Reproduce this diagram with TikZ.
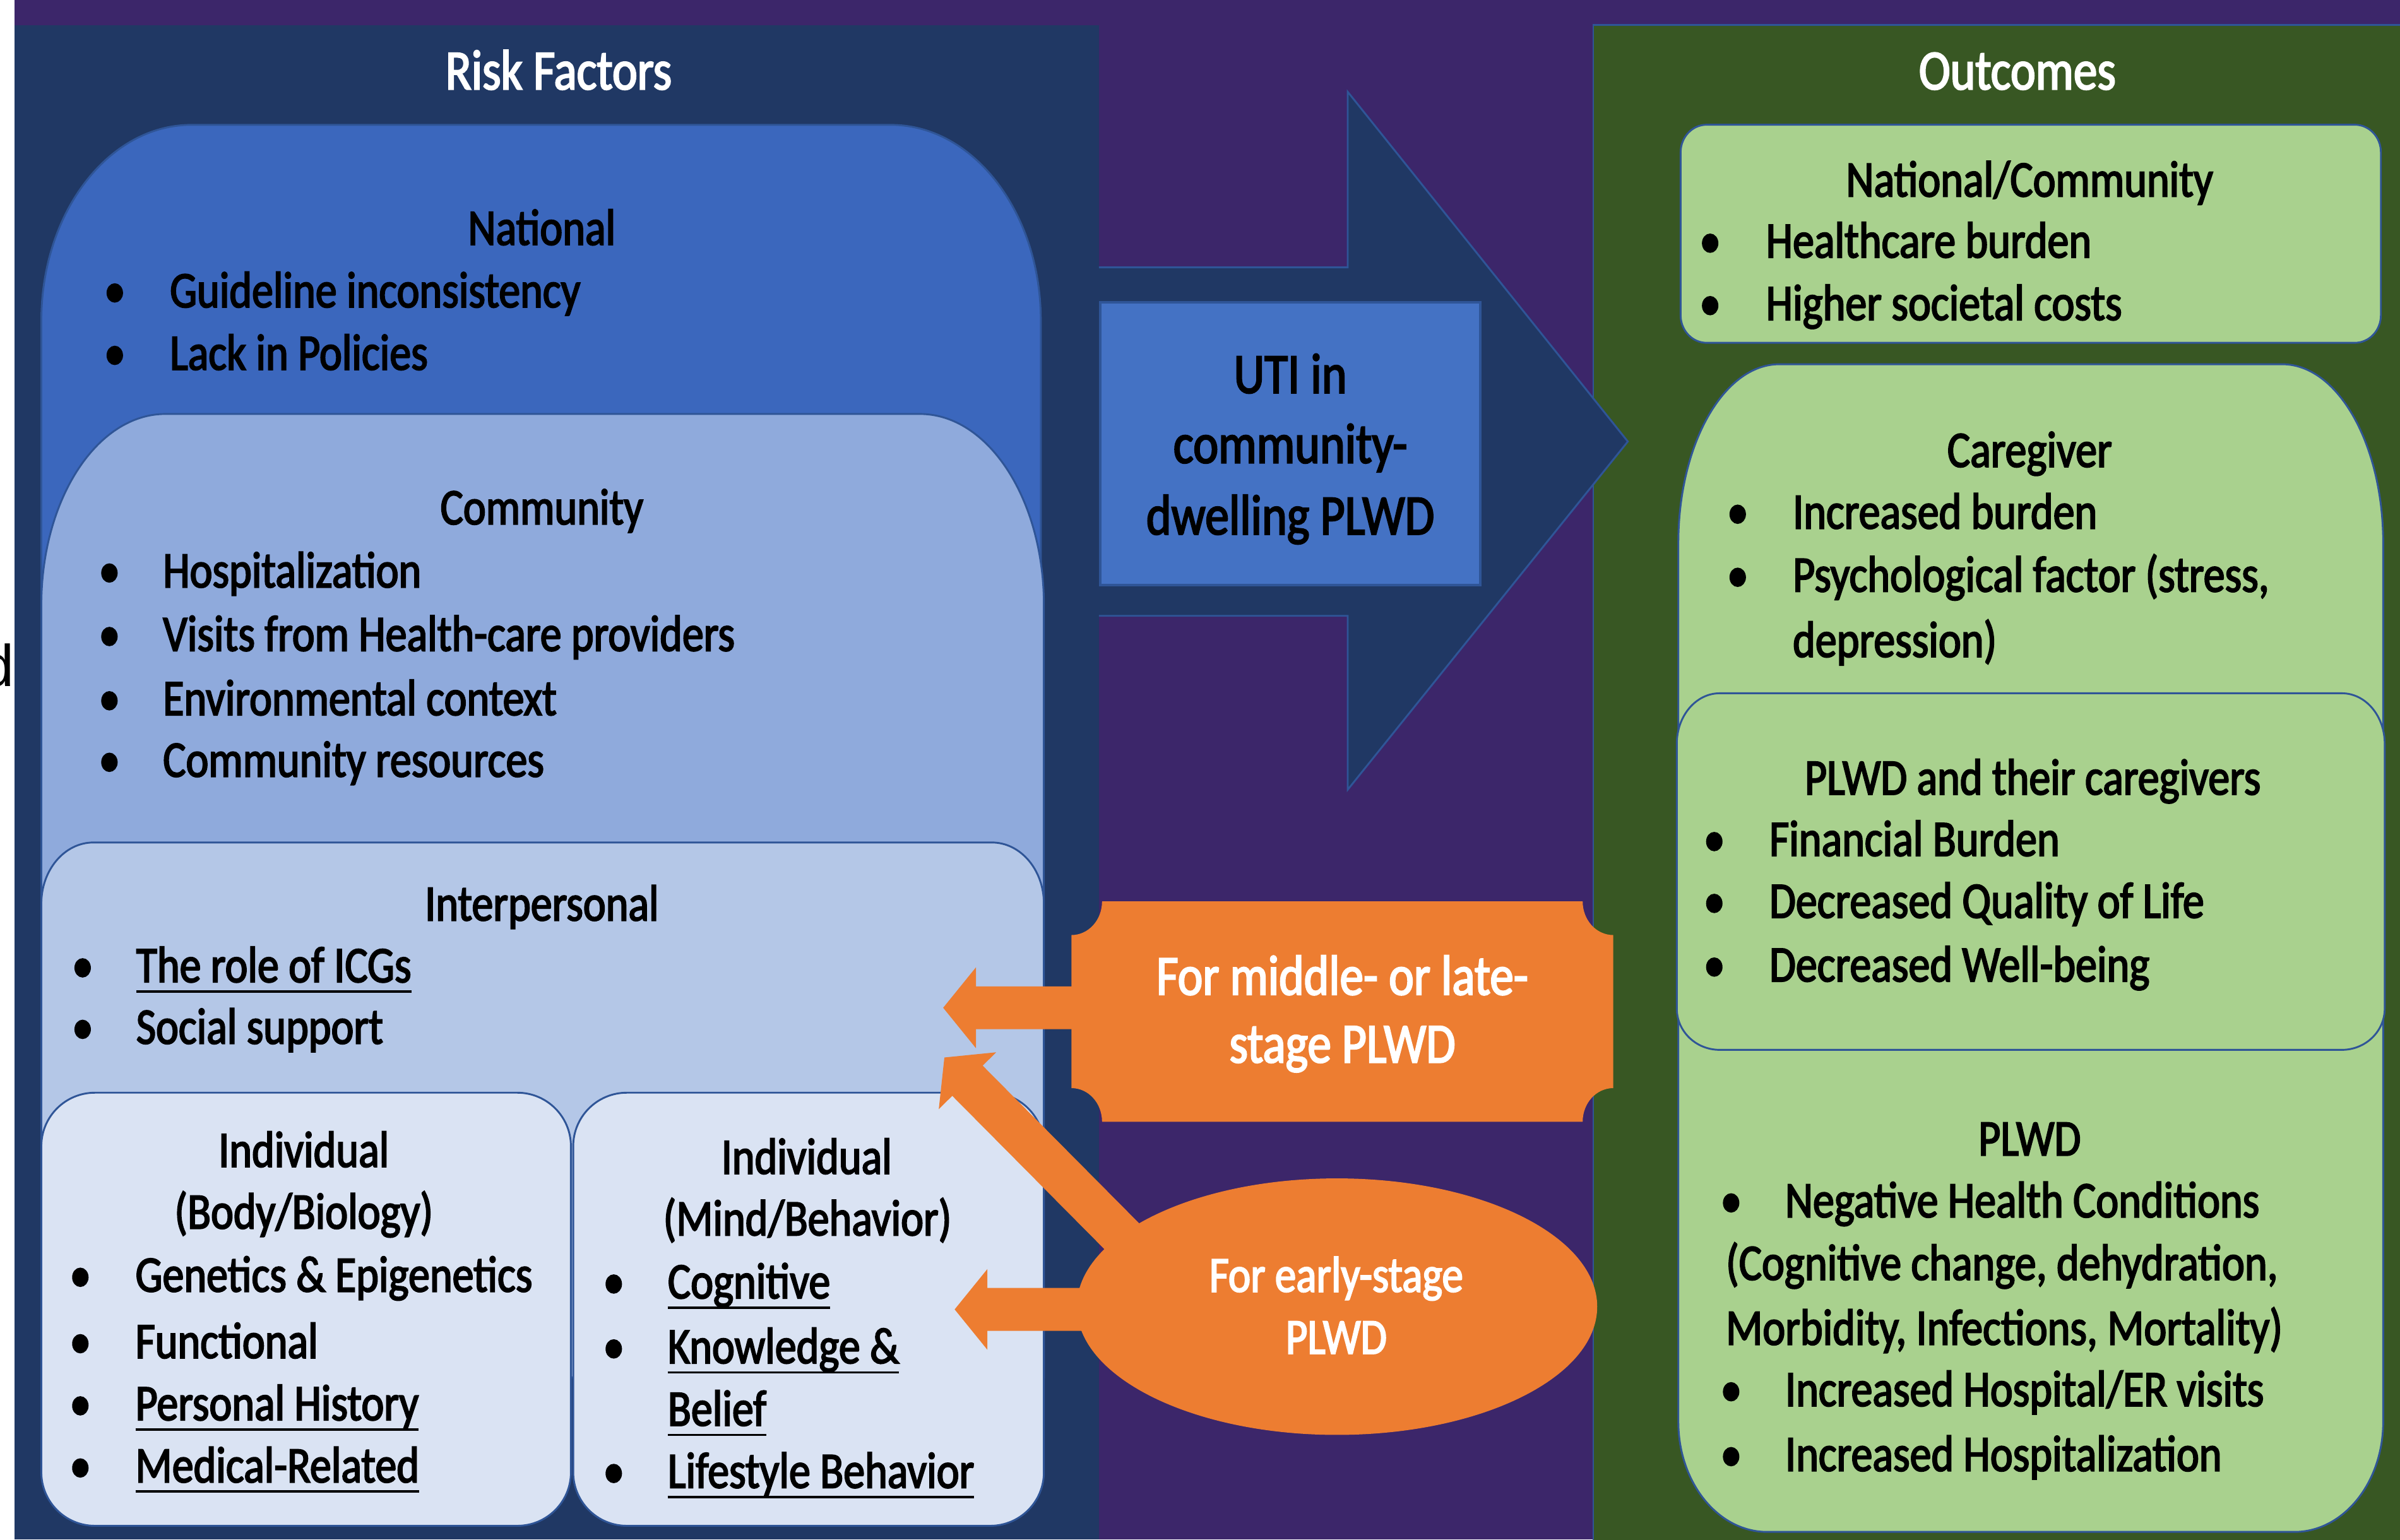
\documentclass[tikz,border=0pt]{standalone}
\usepackage{fontspec}
\setmainfont{Carlito}[FakeStretch=0.84,FakeBold=2.5]
\newfontfamily\arialfont{Liberation Sans}
\usetikzlibrary{calc,shapes.geometric}

\definecolor{bgP}{RGB}{60,38,106}
\definecolor{navyC}{RGB}{32,56,100}
\definecolor{lineC}{RGB}{47,85,151}
\definecolor{natC}{RGB}{59,103,189}
\definecolor{comC}{RGB}{143,170,220}
\definecolor{intC}{RGB}{180,199,231}
\definecolor{indC}{RGB}{218,227,243}
\definecolor{utiC}{RGB}{68,114,196}
\definecolor{grnP}{RGB}{56,87,35}
\definecolor{grnB}{RGB}{169,209,142}
\definecolor{orC}{RGB}{237,125,49}

\newsavebox\ulbx
\newcommand\ulx[1]{\sbox\ulbx{#1}\rlap{\rule[-3.4pt]{\wd\ulbx}{0.8pt}}\usebox\ulbx}

% box with elliptical corners: style, x1, y1, x2, y2, rx top, ry top, rx bottom, ry bottom
\newcommand\rbox[9]{%
\path[#1] ({#2+#6},#3) -- ({#4-#6},#3)
 .. controls ({#4-0.4477*#6},#3) and (#4,{#3+0.4477*#7}) .. (#4,{#3+#7})
 -- (#4,{#5-#9})
 .. controls (#4,{#5-0.4477*#9}) and ({#4-0.4477*#8},#5) .. ({#4-#8},#5)
 -- ({#2+#8},#5)
 .. controls ({#2+0.4477*#8},#5) and (#2,{#5-0.4477*#9}) .. (#2,{#5-#9})
 -- (#2,{#3+#7})
 .. controls (#2,{#3+0.4477*#7}) and ({#2+0.4477*#6},#3) .. ({#2+#6},#3) -- cycle;}

% bullet item: name, bullet x, text x, baseline, text
\newcommand\bitem[5]{%
\node[txt,anchor=base] (#1b) at (#2,#4) {\textbullet};
\node[txt,anchor=base west] (#1) at (#3,#4) {#5};}

% orange block arrow: name, from, to
\newcommand\barrow[3]{%
\coordinate (#1s) at (#2);
\coordinate (#1t) at (#3);
\coordinate (#1h) at ($(#1t)!10.7pt!(#1s)$);
\fill[orC] ($(#1s)!7pt!90:(#1t)$) -- ($(#1h)!7pt!-90:(#1s)$) -- ($(#1h)!13.2pt!-90:(#1s)$)
 -- (#1t) -- ($(#1h)!13.2pt!90:(#1s)$) -- ($(#1h)!7pt!90:(#1s)$) -- ($(#1s)!7pt!-90:(#1t)$) -- cycle;}

\begin{document}
\begin{tikzpicture}[x=0.5pt,y=-0.5pt,
  txt/.style={inner sep=0pt, outer sep=0pt, text=black, font=\fontsize{16.7}{20}\selectfont},
  hd/.style={txt, anchor=base},
  ttl/.style={inner sep=0pt, text=white, anchor=base, font=\fontsize{18.5}{22}\selectfont},
  oT/.style={inner sep=0pt, text=white, anchor=base, font=\fontsize{18.5}{22}\selectfont},
  eT/.style={inner sep=0pt, text=white, anchor=base, font=\fontsize{16.5}{20}\selectfont},
  uT/.style={inner sep=0pt, text=black, anchor=base, font=\fontsize{18.6}{22}\selectfont},
  lbox/.style={draw=lineC, line width=0.6pt},
  gbox/.style={fill=grnB, draw=lineC, line width=0.6pt}]
\useasboundingbox (0,0) rectangle (1568,1006);
% backgrounds
\fill[bgP] (0,0) rectangle (1568,1006);
\fill[white] (0,0) rectangle (9.4,1006);
\node[anchor=base west, inner sep=0pt, font=\arialfont\fontsize{19.25}{22}\selectfont] (dcut) at (-12.6,448.3) {d};
\fill[navyC] (9.4,16.3) rectangle (718,1006);
\path[fill=grnP, draw=lineC, line width=0.5pt] (1041,16.3) rectangle (1572,1010);

% central block arrow
\fill[navyC] (717,174.7) -- (880.5,174.7) -- (880.5,60) -- (1063.5,288.5) -- (880.5,516) -- (880.5,402.4) -- (717,402.4) -- cycle;
\draw[lineC, line width=0.6pt, line join=miter] (718,174.7) -- (880.5,174.7) -- (880.5,60) -- (1063.5,288.5) -- (880.5,516) -- (880.5,402.4) -- (718,402.4);
\node[fill=utiC, draw=lineC, line width=0.8pt, minimum width=124pt, minimum height=92.4pt, inner sep=0pt] (uti) at (843,290) {};

% left boxes
\rbox{lbox, fill=natC}{27}{81.6}{680}{900}{98}{128}{0}{0}
\rbox{lbox, fill=comC}{27}{270.5}{682}{900}{81}{125}{0}{0}
\rbox{lbox, fill=intC}{27}{550.5}{682}{900}{34}{40}{0}{0}
\rbox{lbox, fill=indC}{27}{714}{373}{997}{35}{35}{35}{35}
\rbox{lbox, fill=indC}{374.5}{714}{682}{997}{35}{35}{35}{35}

% right boxes
\rbox{gbox}{1098}{81.5}{1555.5}{224}{17}{18}{17}{18}
\rbox{gbox}{1096.5}{238}{1557}{1001}{66}{117}{58}{72}
\rbox{gbox}{1095.5}{453}{1558}{686}{28}{33}{28}{27}

% orange shapes
\node[minimum width=177pt, minimum height=72pt, inner sep=0pt] (ml) at (877,661) {};
\fill[orC] (720,589) -- (1034,589) .. controls (1034,601.2) and (1042.9,611) .. (1054,611)
  -- (1054,711) .. controls (1042.9,711) and (1034,720.8) .. (1034,733)
  -- (720,733) .. controls (720,720.8) and (711.1,711) .. (700,711)
  -- (700,611) .. controls (711.1,611) and (720,601.2) .. (720,589) -- cycle;
\node[ellipse, fill=orC, minimum width=170pt, minimum height=83.8pt, inner sep=0pt] (early) at (873.5,853.8) {};
\coordinate (tipA) at (616.2,658.5);
\coordinate (tipB) at (617,691);
\coordinate (tipC) at (623.7,855.6);
\coordinate (e2s) at (745,820);
\barrow{aA}{$(ml.west |- tipA)+(6,0)$}{tipA}
\barrow{aB}{e2s}{tipB}
\barrow{aC}{$(early.west |- tipC)+(8,0)$}{tipC}

% titles
\node[ttl] (rf) at (365,58.4) {Risk Factors};
\node[ttl] (oc) at (1318,58.4) {Outcomes};

% middle texts
\node[uT] (u1) at (843,256.8) {UTI in};
\node[uT] (u2) at (843,302.5) {community-};
\node[uT] (u3) at (843,349.2) {dwelling PLWD};
\node[oT] (ml1) at (877,650) {For middle- or late-};
\node[oT] (ml2) at (877,694.3) {stage PLWD};
\node[eT] (e1) at (873,844.1) {For early-stage};
\node[eT] (e2) at (873,884.6) {PLWD};

% National
\node[hd] (natH) at (354,160) {National};
\bitem{nat1}{75}{111}{200.8}{Guideline inconsistency}
\bitem{nat2}{75}{111}{241.6}{Lack in Policies}
% Community
\node[hd] (comH) at (354,342.6) {Community};
\bitem{com1}{71.5}{106.5}{383.8}{Hospitalization}
\bitem{com2}{71.5}{106.5}{425.3}{Visits from Health-care providers}
\bitem{com3}{71.5}{106.5}{467.3}{Environmental context}
\bitem{com4}{71.5}{106.5}{507.5}{Community resources}
% Interpersonal
\node[hd] (intH) at (354,601.5) {Interpersonal};
\bitem{int1}{54}{89}{641.8}{\ulx{The role of ICGs}}
\bitem{int2}{54}{89}{682}{Social support}
% Individual body
\node[hd] (ib1) at (198.5,762.5) {Individual};
\node[hd] (ib2) at (198.5,802.8) {(Body/Biology)};
\bitem{ib3}{52.5}{88.5}{844}{Genetics \& Epigenetics}
\bitem{ib4}{52.5}{88.5}{887.4}{Functional}
\bitem{ib5}{52.5}{88.5}{928}{\ulx{Personal History}}
\bitem{ib6}{52.5}{88.5}{968.6}{\ulx{Medical-Related}}
% Individual mind
\node[hd] (im1) at (527,767) {Individual};
\node[hd] (im2) at (527.5,807.2) {(Mind/Behavior)};
\bitem{im3}{401}{436.3}{848.4}{\ulx{Cognitive}}
\bitem{im4}{401}{436.3}{890.8}{\ulx{Knowledge \&}}
\node[txt,anchor=base west] (im5) at (436.3,931.6) {\ulx{Belief}};
\bitem{im6}{401}{436.3}{972.2}{\ulx{Lifestyle Behavior}}

% Outcomes: national/community
\node[hd] (ncH) at (1326,128.4) {National/Community};
\bitem{nc1}{1117.3}{1153.8}{168.3}{Healthcare burden}
\bitem{nc2}{1117.3}{1153.8}{209.1}{Higher societal costs}
% Caregiver
\node[hd] (cgH) at (1326,305.1) {Caregiver};
\bitem{cg1}{1135.3}{1171.3}{345.4}{Increased burden}
\bitem{cg2}{1135.3}{1171.3}{386.6}{Psychological factor (stress,}
\node[txt,anchor=base west] (cg3) at (1171.3,429.3) {depression)};
% PLWD and caregivers
\node[hd] (pcH) at (1328,519.2) {PLWD and their caregivers};
\bitem{pc1}{1120}{1156}{559.3}{Financial Burden}
\bitem{pc2}{1120}{1156}{599.7}{Decreased Quality of Life}
\bitem{pc3}{1120}{1156}{641.3}{Decreased Well-being}
% PLWD
\node[hd] (plH) at (1326,755) {PLWD};
\bitem{pl1}{1131}{1166.3}{795.4}{Negative Health Conditions}
\node[txt,anchor=base west] (pl2) at (1127.6,836.3) {(Cognitive change, dehydration,};
\node[txt,anchor=base west] (pl3) at (1127.6,878.7) {Morbidity, Infections, Mortality)};
\bitem{pl4}{1131}{1166.3}{918.8}{Increased Hospital/ER visits}
\bitem{pl5}{1131}{1166.3}{961.2}{Increased Hospitalization}
\end{tikzpicture}
\end{document}
